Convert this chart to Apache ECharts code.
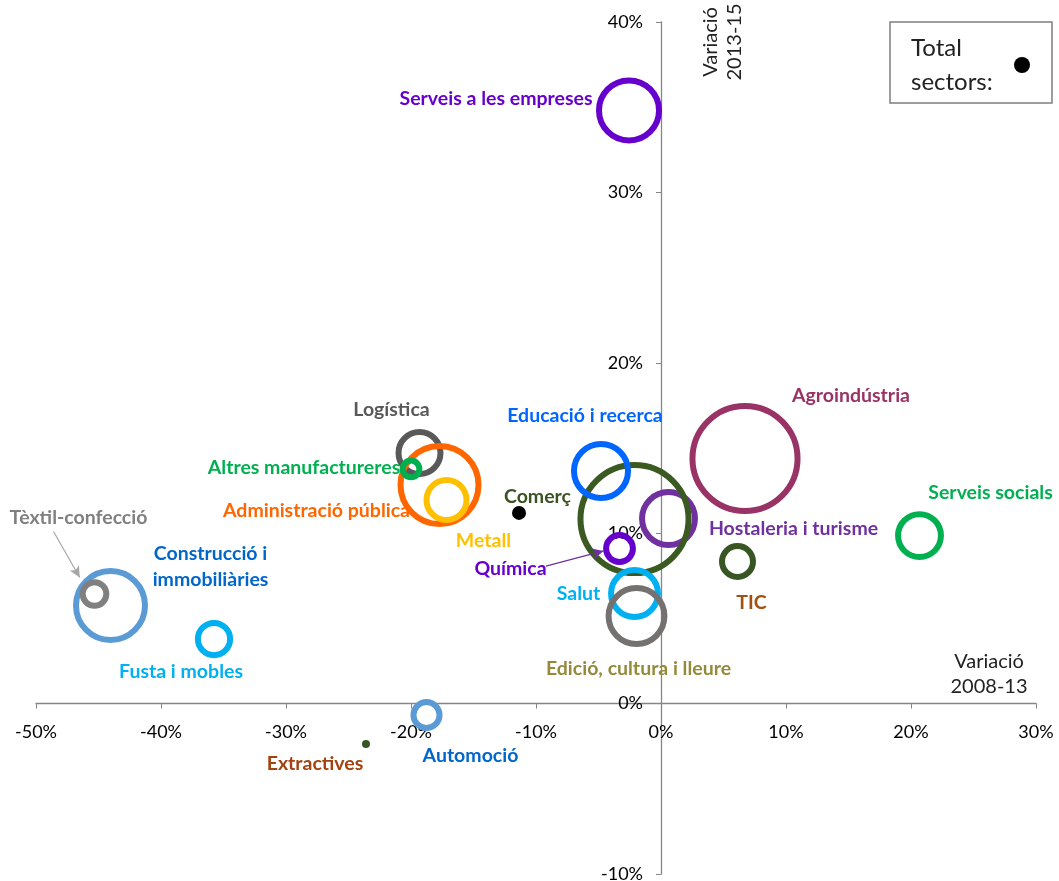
<!DOCTYPE html>
<html>
<head>
<meta charset="utf-8">
<script src="https://cdn.jsdelivr.net/npm/echarts@6/dist/echarts.min.js"></script>
<style>
  html, body { margin: 0; padding: 0; background: #fff; }
  #chart { width: 1059px; height: 881px; }
</style>
</head>
<body>
<div id="chart"></div>
<script>
// sectors and their variation (%) in employment
var sectors = ['Serveis a les empreses', 'Agroindústria', 'Serveis socials', 'TIC',
    'Hostaleria i turisme', 'Comerç', 'Educació i recerca', 'Química', 'Salut',
    'Edició, cultura i lleure', 'Logística', 'Administració pública',
    'Altres manufactureres', 'Metall', 'Construcció i\nimmobiliàries',
    'Tèxtil-confecció', 'Fusta i mobles', 'Automoció', 'Extractives'];
var var0813 = [-2.56, 6.72, 20.68, 6.12, 0.6, -2.12, -4.8, -3.32, -2.12, -1.96,
    -19.32, -17.72, -20.0, -17.16, -44.04, -45.32, -35.76, -18.76, -23.6];
var var1315 = [34.81, 14.38, 9.86, 8.34, 10.86, 10.83, 13.65, 9.10, 6.46, 5.14,
    14.71, 12.83, 13.77, 11.95, 5.76, 6.43, 3.79, -0.67, -2.37];
// bubble weight (pes del sector)
var pes = [90, 276, 46, 24, 70, 292, 73, 18, 55, 78, 44, 152, 7, 40, 119, 14, 26, 17, 1.6];
var totalX = [-11.36];
var totalY = [11.19];
// annotation arrows [from, to] in data units
var arrows = [
    [[-48.6, 10.1], [-46.5, 7.4]],
    [[-9.2, 8.07], [-4.6, 8.96]]
];
var xTicks = { min: -50, max: 30, interval: 10 };
var yTicks = { min: -10, max: 40, interval: 10 };

// styles
var ringColor = ['#6600CC', '#993366', '#00B050', '#375623', '#7030A0', '#3B5A21',
    '#0066FF', '#6600CC', '#00B0F0', '#767171', '#595959', '#FF6600', '#00B050',
    '#FFC000', '#5B9BD5', '#808080', '#00B0F0', '#5B9BD5', '#375623'];
var labelColor = ['#6600CC', '#993366', '#00B050', '#A0500F', '#7030A0', '#3B5323',
    '#0066FF', '#6600CC', '#00B0F0', '#948A3A', '#595959', '#FF6600', '#00B050',
    '#FFC000', '#0066CC', '#808080', '#00B0F0', '#0066CC', '#A3420E'];
var labelOffset = [[-133, -12], [106, -63], [71, -43], [14, 41], [125, 10], [-97, -22],
    [-16, -55], [-109, 20], [-56, 0], [2, 53], [-28, -43], [-123, 26], [-107, -1],
    [37, 41], [100, -39], [-16, -76], [-33, 33], [44, 41], [-51, 20]];
var arrowColor = ['#A6A6A6', '#7030A0'];

var grid = { left: 36, right: 23, top: 22, bottom: 7 };
var gridW = 1059 - grid.left - grid.right;
var gridH = 881 - grid.top - grid.bottom;

var sectorData = sectors.map(function (name, i) {
    var filled = name === 'Extractives';
    return {
        name: name,
        value: [var0813[i], var1315[i], pes[i]],
        itemStyle: {
            color: filled ? ringColor[i] : 'rgba(0,0,0,0)',
            borderColor: ringColor[i],
            borderWidth: filled ? 0 : 6,
            opacity: 1
        },
        label: { color: labelColor[i] }
    };
});

var myChart = echarts.init(document.getElementById('chart'));

var option = {
    animation: false,
    textStyle: { fontFamily: 'Lato' },
    grid: { left: grid.left, right: grid.right, top: grid.top, bottom: grid.bottom,
        containLabel: false, outerBoundsMode: 'none' },
    legend: {
        data: [{ name: 'Total sectors', icon: 'circle' }],
        right: 7,
        top: 22,
        align: 'right',
        itemWidth: 16,
        itemHeight: 16,
        padding: [14, 22, 9, 21],
        borderColor: '#7f7f7f',
        borderWidth: 1.5,
        formatter: function () { return '{a|Total}\n{a|sectors:}'; },
        textStyle: {
            padding: [0, 16, 0, 0],
            rich: { a: { fontSize: 24, lineHeight: 34, color: '#222', width: 82, align: 'left' } }
        }
    },
    xAxis: {
        type: 'value',
        position: 'bottom',
        offset: -(0 - yTicks.min) / (yTicks.max - yTicks.min) * gridH,
        min: xTicks.min, max: xTicks.max, interval: xTicks.interval,
        axisLine: { onZero: false, lineStyle: { color: '#868686', width: 1.3 } },
        axisTick: { length: 5, lineStyle: { color: '#868686' } },
        axisLabel: { formatter: '{value}%', fontSize: 18, color: '#000', margin: 20 },
        splitLine: { show: false }
    },
    yAxis: {
        type: 'value',
        position: 'left',
        offset: -(0 - xTicks.min) / (xTicks.max - xTicks.min) * gridW,
        min: yTicks.min, max: yTicks.max, interval: yTicks.interval,
        axisLine: { onZero: false, lineStyle: { color: '#868686', width: 1.3 } },
        axisTick: { length: 5, lineStyle: { color: '#868686' } },
        axisLabel: { formatter: '{value}%', fontSize: 18, color: '#000', margin: 18 },
        splitLine: { show: false }
    },
    graphic: [
        {
            type: 'text', x: 723, y: 42, rotation: Math.PI / 2,
            style: { text: 'Variació\n2013-15', align: 'center', verticalAlign: 'middle',
                fontSize: 20, fontFamily: 'Lato', lineHeight: 24, fill: '#222' }
        },
        {
            type: 'text', x: 989, y: 674,
            style: { text: 'Variació\n2008-13', align: 'center', verticalAlign: 'middle',
                fontSize: 20, fontFamily: 'Lato', lineHeight: 25, fill: '#222' }
        }
    ],
    series: [
        {
            name: 'Sectors',
            type: 'scatter',
            symbol: 'circle',
            symbolSize: function (val) { return Math.sqrt(val[2] * 40); },
            data: sectorData,
            itemStyle: { opacity: 1 },
            label: {
                show: true,
                position: 'inside',
                align: 'center',
                verticalAlign: 'middle',
                fontSize: 19.5,
                fontWeight: 'bold',
                lineHeight: 26,
                formatter: '{b}'
            },
            labelLayout: function (params) {
                var o = labelOffset[params.dataIndex];
                return { dx: o[0], dy: o[1], hideOverlap: false };
            },
            markLine: {
                silent: true,
                symbol: ['none', 'arrow'],
                symbolSize: [8, 11],
                label: { show: false },
                data: arrows.map(function (a, i) {
                    return [
                        { coord: a[0], lineStyle: { color: arrowColor[i], width: 1.2, type: 'solid', opacity: 1 } },
                        { coord: a[1] }
                    ];
                })
            }
        },
        {
            name: 'Total sectors',
            type: 'scatter',
            symbol: 'circle',
            symbolSize: 14,
            itemStyle: { color: '#000', opacity: 1 },
            z: 5,
            data: totalX.map(function (x, i) { return [x, totalY[i]]; })
        }
    ]
};

myChart.setOption(option);
</script>
</body>
</html>
